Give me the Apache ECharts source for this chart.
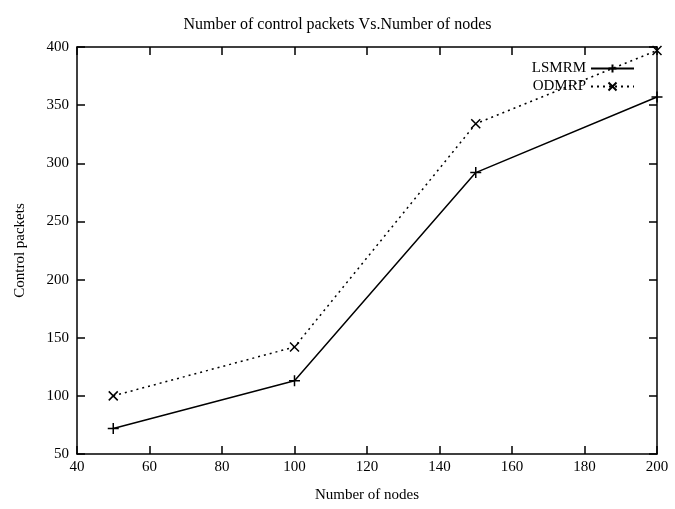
<!DOCTYPE html>
<html>
<head>
<meta charset="utf-8">
<script src="https://cdn.jsdelivr.net/npm/echarts@6/dist/echarts.min.js"></script>
<style>
html, body { margin: 0; padding: 0; background: #fff; }
#main { width: 675px; height: 509px; }
</style>
</head>
<body>
<div id="main"></div>
<script>
var nodes = [50, 100, 150, 200]
var lsmrm = [72, 113, 292, 357]
var odmrp = [100, 142, 334, 397]
var xTicks = [40, 60, 80, 100, 120, 140, 160, 180, 200]
var yTicks = [50, 100, 150, 200, 250, 300, 350, 400]

var font = 'Liberation Serif'
var plus = 'path://M0,-5L0,5M-5,0L5,0'
var cross = 'path://M-4,-4L4,4M-4,4L4,-4'

function pairs(ys) {
	return nodes.map(function (x, i) { return [x, ys[i]] })
}

var tickBase = {
	show: true,
	inside: true,
	length: 8,
	lineStyle: { color: '#000', width: 1.5 }
}

var myChart = echarts.init(document.getElementById('main'))
myChart.setOption({
	animation: false,
	backgroundColor: '#fff',
	title: {
		text: 'Number of control packets Vs.Number of nodes',
		left: 'center',
		top: 12,
		textStyle: { fontFamily: font, fontSize: 16, fontWeight: 'normal', color: '#000' }
	},
	legend: {
		right: 35,
		top: 56,
		orient: 'vertical',
		align: 'right',
		itemWidth: 43,
		itemHeight: 10,
		itemGap: 3,
		textStyle: { fontFamily: font, fontSize: 15, color: '#000' },
		data: ['LSMRM', 'ODMRP']
	},
	grid: { left: 77, right: 18, top: 47, bottom: 55 },
	xAxis: [
		{
			type: 'value',
			min: 40,
			max: 200,
			interval: 20,
			name: 'Number of nodes',
			nameLocation: 'middle',
			nameGap: 34,
			nameTextStyle: { fontFamily: font, fontSize: 15, color: '#000' },
			axisLine: { show: true, lineStyle: { color: '#000', width: 1.5 } },
			axisTick: tickBase,
			splitLine: { show: false },
			axisLabel: {
				fontFamily: font, fontSize: 15, color: '#000', margin: 6,
				formatter: function (v) { return xTicks.indexOf(v) >= 0 ? String(v) : '' }
			}
		},
		{
			type: 'value',
			position: 'top',
			min: 40,
			max: 200,
			interval: 20,
			axisLine: { show: true, lineStyle: { color: '#000', width: 1.5 } },
			axisTick: tickBase,
			splitLine: { show: false },
			axisLabel: { show: false }
		}
	],
	yAxis: [
		{
			type: 'value',
			min: 50,
			max: 400,
			interval: 50,
			name: 'Control packets',
			nameLocation: 'middle',
			nameGap: 49,
			nameTextStyle: { fontFamily: font, fontSize: 15, color: '#000' },
			axisLine: { show: true, lineStyle: { color: '#000', width: 1.5 } },
			axisTick: tickBase,
			splitLine: { show: false },
			axisLabel: {
				fontFamily: font, fontSize: 15, color: '#000', margin: 8,
				formatter: function (v) { return yTicks.indexOf(v) >= 0 ? String(v) : '' }
			}
		},
		{
			type: 'value',
			position: 'right',
			min: 50,
			max: 400,
			interval: 50,
			axisLine: { show: true, lineStyle: { color: '#000', width: 1.5 } },
			axisTick: tickBase,
			splitLine: { show: false },
			axisLabel: { show: false }
		}
	],
	series: [
		{
			name: 'LSMRM',
			type: 'line',
			data: pairs(lsmrm),
			symbol: plus,
			symbolSize: 11,
			lineStyle: { color: '#000', width: 1.5, type: 'solid' },
			itemStyle: { color: '#000', borderColor: '#000', borderWidth: 1.5 }
		},
		{
			name: 'ODMRP',
			type: 'line',
			data: pairs(odmrp),
			symbol: cross,
			symbolSize: 9,
			lineStyle: { color: '#000', width: 1.5, type: [2, 4] },
			itemStyle: { color: '#000', borderColor: '#000', borderWidth: 1.5 }
		}
	]
})
</script>
</body>
</html>
